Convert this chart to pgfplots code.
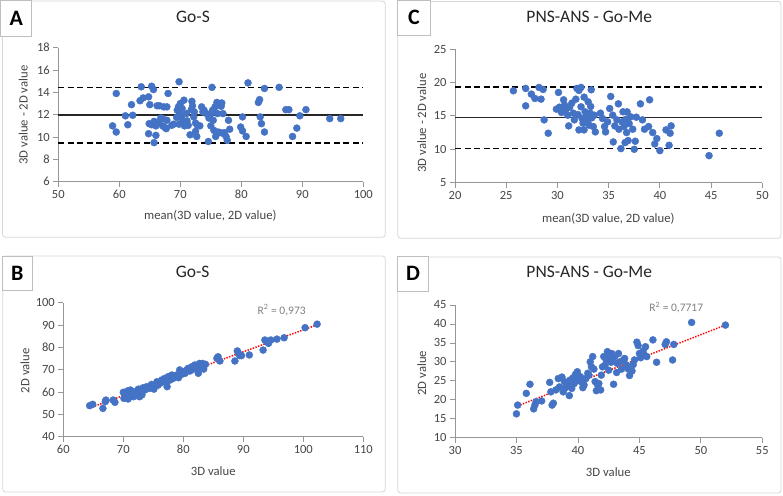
\documentclass[border=0pt]{standalone}
\usepackage{pgfplots}
\pgfplotsset{compat=1.18}
\usepackage{fontspec}
\setmainfont{Carlito}
\definecolor{xblue}{RGB}{68,114,196}
\definecolor{xtext}{RGB}{70,70,70}
\definecolor{xaxis}{RGB}{150,150,150}
\definecolor{xframe}{RGB}{215,215,215}
\definecolor{xlabbox}{RGB}{190,190,190}
\definecolor{xr2}{RGB}{128,128,128}
\pgfplotsset{
  panel/.style={
    scale only axis, axis lines*=left,
    axis line style={xaxis, line width=0.8pt},
    tick align=outside, major tick length=5pt,
    tick style={xaxis, line width=0.8pt},
    ticklabel style={font=\fontsize{12.5}{14}\selectfont, text=xtext},
    /pgf/number format/assume math mode=true,
    label style={font=\fontsize{12.7}{15}\selectfont, text=xtext},
    title style={font=\fontsize{17.5}{20}\selectfont, text=black!85, anchor=center},
    xlabel style={anchor=center},
    ylabel style={anchor=center},
    clip=false,
  },
  pts/.style={only marks, mark=*, mark size=3.5pt, mark options={draw=xblue, fill=xblue}},
  loa/.style={black, line width=1.4pt, dash pattern=on 6pt off 3.5pt, no marks},
  meanl/.style={black!85, line width=1.4pt, no marks},
  trend/.style={red, line width=1.5pt, dash pattern=on 1.4pt off 1.4pt, no marks},
}
\pgfplotstableread{
x y
58.9 11.0
59.5 13.9
59.5 10.45
61.0 11.9
61.4 11.1
62.0 12.9
62.2 11.95
63.4 13.25
63.6 14.5
63.9 13.5
64.8 13.6
64.8 10.3
64.9 11.2
65.0 12.9
65.3 14.55
65.6 14.25
65.7 11.4
65.3 11.1
65.7 9.5
66.0 10.15
66.0 11.0
66.2 12.8
66.6 12.8
66.4 11.3
66.8 11.7
67.1 11.0
67.3 12.7
67.1 11.65
67.5 10.85
67.8 12.7
67.7 10.75
67.8 11.5
68.0 13.9
68.6 11.05
68.9 11.15
69.4 11.75
69.5 12.4
69.8 14.95
69.7 12.7
69.8 11.15
69.9 12.1
70.0 13.0
70.2 11.8
70.3 12.55
70.4 11.4
70.6 13.3
70.7 11.0
71.0 12.1
71.1 11.45
71.3 11.05
71.6 10.2
71.8 12.45
71.9 13.2
72.0 12.8
72.2 11.8
72.3 12.25
72.5 11.25
72.5 10.5
72.7 10.05
72.8 11.05
73.2 11.0
73.5 12.7
73.7 12.25
73.9 12.4
74.3 12.1
74.6 9.6
74.7 11.7
74.9 12.0
75.0 11.0
75.2 14.45
75.3 12.4
75.4 11.5
75.5 10.6
75.7 12.7
75.8 10.05
76.0 13.1
76.1 12.1
76.2 10.45
76.4 12.9
76.5 10.4
76.7 12.75
76.8 13.05
77.0 12.1
77.1 10.3
77.2 10.4
77.5 10.05
77.7 9.7
77.9 11.5
78.1 10.7
79.9 10.9
80.2 11.8
80.2 10.55
80.8 10.05
81.1 14.85
82.8 13.1
83.0 13.35
83.1 11.8
83.3 11.2
83.8 14.35
83.8 10.45
86.2 14.45
87.3 12.45
87.8 12.45
88.4 10.05
89.1 10.8
89.6 11.9
90.6 12.45
94.5 11.65
96.3 11.65
}\dataA
\pgfplotstableread{
x y
25.7 18.75
26.9 19.1
26.9 16.5
27.45 18.25
27.8 17.6
28.2 19.25
28.4 17.5
28.6 18.95
28.7 14.4
29.1 12.4
29.9 16.0
30.1 18.5
30.2 16.3
30.4 15.5
30.6 17.4
30.7 16.6
30.8 15.9
31.0 15.1
31.1 13.5
31.2 16.3
31.4 16.9
31.55 15.4
31.65 14.4
31.8 17.5
31.9 19.1
32.0 15.2
32.1 12.9
32.1 18.8
32.3 19.25
32.3 16.35
32.4 14.6
32.5 13.9
32.6 12.9
32.6 17.8
32.7 15.6
32.85 15.1
32.95 14.4
33.0 17.1
33.1 13.6
33.2 15.4
33.3 18.9
33.35 14.7
33.5 13.4
33.6 15.1
33.7 12.6
33.25 16.4
34.2 15.4
34.4 14.6
34.6 13.4
34.7 12.6
34.9 14.1
35.1 16.1
35.2 17.9
35.4 15.1
35.45 11.1
35.6 13.5
35.8 14.4
35.95 16.8
36.0 13.0
36.2 10.1
36.3 14.1
36.4 15.6
36.5 13.4
36.6 11.0
36.7 14.5
36.75 12.5
36.8 15.6
36.9 11.3
37.0 13.85
37.15 14.85
37.35 13.0
37.5 10.0
37.6 11.2
37.7 14.8
38.1 16.8
38.3 14.4
38.5 13.0
38.9 13.4
39.0 17.4
39.3 12.5
39.5 10.8
39.7 11.6
40.0 9.8
40.6 12.9
40.9 10.6
41.0 12.4
41.1 13.5
44.8 9.05
45.8 12.4
}\dataC
\pgfplotstableread{
x y
64.4 53.9
64.9 54.5
66.6 52.7
67.0 55.7
67.1 56.4
68.3 56.4
68.6 55.4
70.0 59.9
70.1 57.2
70.4 59.0
70.7 60.5
70.8 56.9
71.1 58.7
71.2 60.9
71.4 59.4
71.7 57.9
71.9 60.1
72.2 59.0
72.5 61.3
72.7 57.9
72.9 60.1
73.1 58.7
73.3 61.9
73.6 60.9
73.9 62.4
74.3 61.6
74.7 63.4
75.1 61.3
75.6 64.6
75.8 63.1
76.1 63.9
76.4 65.4
76.7 64.6
76.9 66.1
77.2 64.3
77.3 62.4
77.5 66.9
77.8 65.4
78.1 67.6
78.3 66.1
78.6 66.9
78.9 67.6
79.2 66.4
79.4 69.9
79.7 67.9
80.0 69.1
80.3 68.4
80.6 69.9
80.8 70.6
81.1 69.4
81.4 71.3
81.7 70.3
81.9 72.1
82.2 70.9
82.5 68.4
82.7 72.8
82.9 71.3
83.2 72.8
83.4 70.3
83.7 72.4
85.6 75.1
85.8 75.8
86.1 73.9
88.6 73.9
89.0 78.4
89.2 77.3
89.4 76.3
89.7 76.3
91.0 76.6
93.3 78.8
93.6 83.3
93.9 82.5
94.2 81.8
94.6 83.3
95.6 83.7
96.8 84.3
100.3 88.8
102.3 90.4
}\dataB
\pgfplotstableread{
x y
35.0 16.3
35.1 18.6
35.8 21.7
36.1 24.1
36.4 17.6
36.5 18.6
36.6 19.5
37.05 19.7
37.7 24.6
37.8 22.1
37.9 18.6
38.0 19.1
38.2 22.6
38.4 25.6
38.5 23.4
38.7 26.0
38.8 22.1
38.9 24.8
39.0 23.2
39.2 23.9
39.3 21.1
39.35 25.2
39.5 23.0
39.6 25.8
39.7 24.3
39.8 26.7
39.95 27.4
40.0 25.2
40.2 26.1
40.3 24.6
40.4 23.2
40.5 23.9
40.65 25.6
40.8 27.0
40.9 26.5
41.0 30.0
41.1 28.7
41.2 31.4
41.3 28.1
41.4 24.8
41.5 22.4
41.6 23.9
41.7 24.3
41.85 22.6
41.9 26.5
42.0 28.7
42.1 31.4
42.2 29.1
42.3 30.5
42.4 32.7
42.5 27.8
42.55 31.2
42.7 29.9
42.75 32.2
42.8 30.5
42.9 24.1
43.0 31.4
43.15 27.2
43.2 29.6
43.3 32.2
43.4 30.0
43.55 28.1
43.7 30.5
43.8 30.9
43.95 29.2
44.1 28.1
44.2 26.4
44.4 27.6
44.5 29.3
44.6 30.5
44.8 35.2
44.9 34.3
45.0 32.2
45.1 31.1
45.3 32.9
45.4 31.8
45.5 34.0
45.6 31.4
46.1 35.8
46.4 29.9
47.1 34.6
47.2 35.3
47.7 30.5
47.8 34.6
49.25 40.4
52.0 39.7
}\dataD
\begin{document}
\begin{tikzpicture}
\useasboundingbox (0pt,0pt) rectangle (783pt,-495pt);
% panel frames
\draw[xframe, line width=0.8pt, rounded corners=3pt, fill=white] (2.5pt,-1pt) rectangle (385.3pt,-237.3pt);
\draw[xframe, line width=0.8pt, rounded corners=3pt, fill=white] (397.7pt,-1.5pt) rectangle (781pt,-238.3pt);
\draw[xframe, line width=0.8pt, rounded corners=3pt, fill=white] (2.7pt,-256pt) rectangle (385.3pt,-492pt);
\draw[xframe, line width=0.8pt, rounded corners=3pt, fill=white] (397.7pt,-257pt) rectangle (781pt,-493pt);
% label boxes
\draw[xlabbox, line width=0.8pt, fill=white] (0.7pt,-0.7pt) rectangle (31.7pt,-36pt);
\node[font=\fontsize{22}{24}\selectfont\bfseries] at (16.2pt,-18.3pt) {A};
\draw[xlabbox, line width=0.8pt, fill=white] (397.7pt,-0.5pt) rectangle (430pt,-35pt);
\node[font=\fontsize{22}{24}\selectfont\bfseries] at (413.9pt,-17.8pt) {C};
\draw[xlabbox, line width=0.8pt, fill=white] (2.7pt,-256pt) rectangle (32pt,-290pt);
\node[font=\fontsize{22}{24}\selectfont\bfseries] at (17.3pt,-273pt) {B};
\draw[xlabbox, line width=0.8pt, fill=white] (397.7pt,-256pt) rectangle (428.3pt,-291pt);
\node[font=\fontsize{22}{24}\selectfont\bfseries] at (413pt,-273.5pt) {D};

% Panel A
\begin{axis}[panel, at={(58.3pt,-181.7pt)}, anchor=south west,
  width=305pt, height=134pt,
  xmin=50, xmax=100, ymin=6, ymax=18,
  xtick={50,60,...,100}, ytick={6,8,...,18},
  title={Go-S}, title style={at={(axis description cs:0.4416,1.1843)}},
  xlabel={mean(3D value, 2D value)}, xlabel style={at={(axis description cs:0.4984,-0.256)}},
  ylabel={3D value - 2D value}, ylabel style={at={(axis description cs:-0.1148,0.4978)}},
]
\addplot[meanl] coordinates {(50,11.97) (100,11.97)};
\addplot[loa] coordinates {(50,14.45) (100,14.45)};
\addplot[loa] coordinates {(50,9.47) (100,9.47)};
\addplot[pts] table[x=x,y=y] {\dataA};
\end{axis}

% Panel C
\begin{axis}[panel, at={(455pt,-182.7pt)}, anchor=south west,
  width=307.3pt, height=133.7pt,
  xmin=20, xmax=50, ymin=5, ymax=25,
  xtick={20,25,...,50}, ytick={5,10,...,25},
  title={PNS-ANS - Go-Me}, title style={at={(axis description cs:0.437,1.1945)}},
  xlabel={mean(3D value, 2D value)}, xlabel style={at={(axis description cs:0.4989,-0.2663)}},
  ylabel={3D value - 2D value}, ylabel style={at={(axis description cs:-0.1084,0.4465)}},
]
\addplot[meanl] coordinates {(20,14.72) (50,14.72)};
\addplot[loa] coordinates {(20,19.3) (50,19.3)};
\addplot[loa] coordinates {(20,10.15) (50,10.15)};
\addplot[pts] table[x=x,y=y] {\dataC};
\end{axis}

% Panel B
\begin{axis}[panel, at={(63.3pt,-436.7pt)}, anchor=south west,
  width=300pt, height=134pt,
  xmin=60, xmax=110, ymin=40, ymax=100,
  xtick={60,70,...,110}, ytick={40,50,...,100},
  title={Go-S}, title style={at={(axis description cs:0.4313,1.1866)}},
  xlabel={3D value}, xlabel style={at={(axis description cs:0.5,-0.256)}},
  ylabel={2D value}, ylabel style={at={(axis description cs:-0.1277,0.4925)}},
]
\addplot[pts] table[x=x,y=y] {\dataB};
\addplot[trend] coordinates {(64.4,52.9) (102.3,90.1)};
\node[text=xr2, font=\fontsize{11.5}{13}\selectfont] at (axis cs:96.4,96.7) {R\textsuperscript{2} = 0,973};
\end{axis}

% Panel D
\begin{axis}[panel, at={(455pt,-437.7pt)}, anchor=south west,
  width=307.3pt, height=132.7pt,
  xmin=30, xmax=55, ymin=10, ymax=45,
  xtick={30,35,...,55}, ytick={10,15,...,45},
  title={PNS-ANS - Go-Me}, title style={at={(axis description cs:0.437,1.2012)}},
  xlabel={3D value}, xlabel style={at={(axis description cs:0.4989,-0.2562)}},
  ylabel={2D value}, ylabel style={at={(axis description cs:-0.1084,0.4853)}},
]
\addplot[pts] table[x=x,y=y] {\dataD};
\addplot[trend] coordinates {(35.1,18.4) (52.0,39.7)};
\node[text=xr2, font=\fontsize{11.5}{13}\selectfont] at (axis cs:48.0,44.3) {R\textsuperscript{2} = 0,7717};
\end{axis}
\end{tikzpicture}
\end{document}
